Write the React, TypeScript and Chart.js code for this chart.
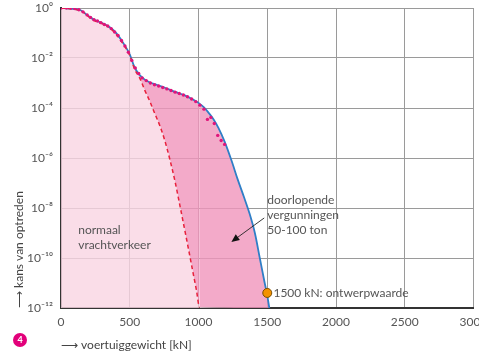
import React, { useEffect, useRef } from "react";
import { Chart, registerables } from "chart.js";

Chart.register(...registerables);

// ---- data ----
// total traffic incl. "doorlopende vergunningen" (blue curve), x in kN, y = probability
const totalX = [0, 60, 140, 190, 235, 285, 355, 405, 450, 500, 530, 560, 600, 640, 700, 760, 830, 900, 960, 1000, 1040, 1070, 1110, 1145, 1190, 1240, 1285, 1330, 1370, 1410, 1445, 1480, 1500, 1515];
const totalP = [1, 0.95, 0.83, 0.52, 0.35, 0.27, 1.7e-1, 9.5e-2, 4.2e-2, 1.4e-2, 5.0e-3, 2.5e-3, 1.5e-3, 1.1e-3, 8.3e-4, 6.3e-4, 4.4e-4, 3.2e-4, 2.2e-4, 1.6e-4, 1.05e-4, 6.8e-5, 3.5e-5, 1.6e-5, 4.5e-6, 7.9e-7, 1.4e-7, 2.8e-8, 6.3e-9, 1.0e-9, 1.05e-10, 1.1e-11, 3.2e-12, 1e-12];

// normal truck traffic (red dashed curve); last point only closes the fill along the axis
const normalX = [0, 140, 235, 355, 450, 500, 536, 572, 609, 645, 681, 720, 754, 790, 826, 862, 899, 930, 959, 985, 1007, 1515];
const normalP = [1, 0.79, 0.33, 0.16, 3.8e-2, 1.26e-2, 3.5e-3, 1.6e-3, 5.2e-4, 1.9e-4, 6.2e-5, 1.9e-5, 5.2e-6, 9.5e-7, 1.4e-7, 1.5e-8, 1.4e-9, 1.9e-10, 2.8e-11, 5.2e-12, 1.1e-12, 1e-12];
const normalEndX = 1007;

// measured points (magenta dots)
const measuredX = [0, 40, 70, 100, 130, 160, 190, 215, 240, 265, 290, 315, 340, 365, 390, 415, 440, 465, 490, 515, 540, 565, 590, 620, 650, 680, 710, 740, 770, 800, 830, 860, 890, 920, 950, 980, 1010, 1040, 1065, 1090, 1115, 1140, 1165, 1190];
const measuredP = [1, 1, 1, 0.95, 0.85, 0.7, 0.53, 0.42, 0.34, 0.3, 0.26, 0.22, 0.19, 0.15, 0.11, 8e-2, 5e-2, 3e-2, 1.7e-2, 8e-3, 4e-3, 2.4e-3, 1.6e-3, 1.25e-3, 1.0e-3, 8.5e-4, 7.6e-4, 6.6e-4, 5.8e-4, 5.0e-4, 4.3e-4, 3.8e-4, 3.3e-4, 2.8e-4, 2.3e-4, 1.8e-4, 1.3e-4, 9e-5, 3.5e-5, 4.2e-5, 2.4e-5, 8e-6, 5e-6, 3.5e-6];

// design value
const designX = [1500];
const designP = [4e-12];

// axes
const xTicks = [0, 500, 1000, 1500, 2000, 2500, 3000];
const yExponents = [0, -2, -4, -6, -8, -10, -12];

const xTitle = "⟶ voertuiggewicht [kN]";
const yTitle = "⟶ kans van optreden";
const notes = [
  { text: "normaal", x: 125, y: 1.3e-9 },
  { text: "vrachtverkeer", x: 125, y: 3.3e-10 },
  { text: "doorlopende", x: 1500, y: 2.1e-8 },
  { text: "vergunningen", x: 1500, y: 5.2e-9 },
  { text: "50-100 ton", x: 1500, y: 1.3e-9 },
  { text: "1500 kN: ontwerpwaarde", x: 1545, y: 4e-12 },
];
const arrowFrom = { x: 1478, y: 4e-9 };
const arrowTo = { x: 1239, y: 4.4e-10 };

const SUP: Record<string, string> = { "0": "⁰", "1": "¹", "2": "²", "3": "³", "4": "⁴", "5": "⁵", "6": "⁶", "7": "⁷", "8": "⁸", "9": "⁹", "-": "⁻" };
const sup = (s: string) => s.split("").map((c) => SUP[c] || c).join("");

const FONT = "Lato";
const TEXT = "#555555";

const zip = (xs: number[], ys: number[]) => xs.map((x, i) => ({ x, y: ys[i] }));

const annotationPlugin = {
  id: "annotations",
  afterDatasetsDraw(chart: any) {
    const { ctx, scales } = chart;
    const xs = scales.x;
    const ys = scales.y;
    ctx.save();
    ctx.font = `12px ${FONT}`;
    ctx.fillStyle = TEXT;
    ctx.textAlign = "left";
    ctx.textBaseline = "middle";
    for (const n of notes) {
      ctx.fillText(n.text, xs.getPixelForValue(n.x), ys.getPixelForValue(n.y));
    }
    const x0 = xs.getPixelForValue(arrowFrom.x);
    const y0 = ys.getPixelForValue(arrowFrom.y);
    const x1 = xs.getPixelForValue(arrowTo.x);
    const y1 = ys.getPixelForValue(arrowTo.y);
    const ang = Math.atan2(y1 - y0, x1 - x0);
    const hl = 8;
    const hw = 3.5;
    ctx.strokeStyle = "#222";
    ctx.fillStyle = "#111";
    ctx.lineWidth = 0.9;
    ctx.beginPath();
    ctx.moveTo(x0, y0);
    ctx.lineTo(x1 - Math.cos(ang) * hl * 0.8, y1 - Math.sin(ang) * hl * 0.8);
    ctx.stroke();
    ctx.beginPath();
    ctx.moveTo(x1, y1);
    ctx.lineTo(x1 - Math.cos(ang) * hl - Math.sin(ang) * hw, y1 - Math.sin(ang) * hl + Math.cos(ang) * hw);
    ctx.lineTo(x1 - Math.cos(ang) * hl + Math.sin(ang) * hw, y1 - Math.sin(ang) * hl - Math.cos(ang) * hw);
    ctx.closePath();
    ctx.fill();
    ctx.restore();
  },
};

export default function App() {
  const canvasRef = useRef<HTMLCanvasElement | null>(null);

  useEffect(() => {
    if (!canvasRef.current) return;
    const chart = new Chart(canvasRef.current, {
      type: "line",
      data: {
        datasets: [
          {
            label: "ontwerpwaarde",
            data: zip(designX, designP),
            showLine: false,
            pointRadius: 4.5,
            pointBackgroundColor: "#f39200",
            pointBorderColor: "#7a4d00",
            pointBorderWidth: 1,
            order: 0,
          },
          {
            label: "metingen",
            data: zip(measuredX, measuredP),
            showLine: false,
            pointRadius: 1.7,
            pointBackgroundColor: "#e0157b",
            pointBorderWidth: 0,
            order: 1,
          },
          {
            label: "totaal",
            data: zip(totalX, totalP),
            borderColor: "#2f7fc7",
            borderWidth: 1.8,
            pointRadius: 0,
            cubicInterpolationMode: "monotone",
            fill: 3,
            backgroundColor: "rgba(240,149,188,0.8)",
            order: 2,
          },
          {
            label: "normaal vrachtverkeer",
            data: zip(normalX, normalP),
            borderColor: "#e8213c",
            borderWidth: 1.5,
            borderDash: [4, 3],
            pointRadius: 0,
            cubicInterpolationMode: "monotone",
            fill: "start",
            backgroundColor: "rgba(249,213,226,0.8)",
            segment: {
              borderColor: (c: any) => (c.p0.parsed.x >= normalEndX ? "rgba(0,0,0,0)" : undefined),
            },
            order: 1.5,
          },
        ] as any,
      },
      options: {
        animation: false,
        responsive: true,
        maintainAspectRatio: false,
        events: [],
        layout: { padding: { top: 8, right: 4, left: 0, bottom: 0 } },
        plugins: {
          legend: { display: false },
          tooltip: { enabled: false },
          filler: { drawTime: "beforeDatasetsDraw" },
        } as any,
        scales: {
          x: {
            type: "linear",
            min: 0,
            max: 3000,
            afterBuildTicks: (s: any) => {
              s.ticks = xTicks.map((v) => ({ value: v }));
            },
            afterFit: (s: any) => {
              s.height = 46;
              s.paddingLeft = 0;
              s.paddingRight = 0;
            },
            ticks: {
              color: TEXT,
              font: { family: FONT, size: 12 },
              padding: 7,
              maxRotation: 0,
              autoSkip: false,
              callback: (v: any) => String(v),
            },
            grid: { color: "#9a9a9a", lineWidth: 1, drawTicks: false },
            border: { color: "#333", width: 2 },
            title: {
              display: true,
              text: xTitle,
              align: "start",
              color: "#444",
              font: { family: FONT, size: 12 },
              padding: { top: 0, bottom: 2 },
            },
          },
          y: {
            type: "logarithmic",
            min: 1e-12,
            max: 1,
            afterBuildTicks: (s: any) => {
              s.ticks = yExponents.map((e) => ({ value: Math.pow(10, e) }));
            },
            afterFit: (s: any) => {
              s.width = 61;
              s.paddingTop = 0;
              s.paddingBottom = 0;
            },
            ticks: {
              color: TEXT,
              font: { family: FONT, size: 12 },
              padding: 8,
              autoSkip: false,
              callback: (v: any) => "10" + sup(String(Math.round(Math.log10(Number(v))))),
            },
            grid: { color: "#9a9a9a", lineWidth: 1, drawTicks: false },
            border: { color: "#333", width: 2 },
            title: {
              display: true,
              text: yTitle,
              align: "start",
              color: "#444",
              font: { family: FONT, size: 12 },
              padding: { top: 12, bottom: 0 },
            },
          },
        },
      } as any,
      plugins: [annotationPlugin],
    });
    return () => chart.destroy();
  }, []);

  return (
    <div style={{ position: "absolute", left: 0, top: 0, width: 479, height: 354, background: "#fff" }}>
      <canvas ref={canvasRef} />
      <div
        style={{
          position: "absolute",
          left: 13,
          top: 333,
          width: 14,
          height: 14,
          borderRadius: 7,
          background: "#e2007a",
          color: "#fff",
          fontFamily: "Lato, sans-serif",
          fontWeight: 700,
          fontSize: 9,
          lineHeight: "14px",
          textAlign: "center",
        }}
      >
        4
      </div>
    </div>
  );
}
